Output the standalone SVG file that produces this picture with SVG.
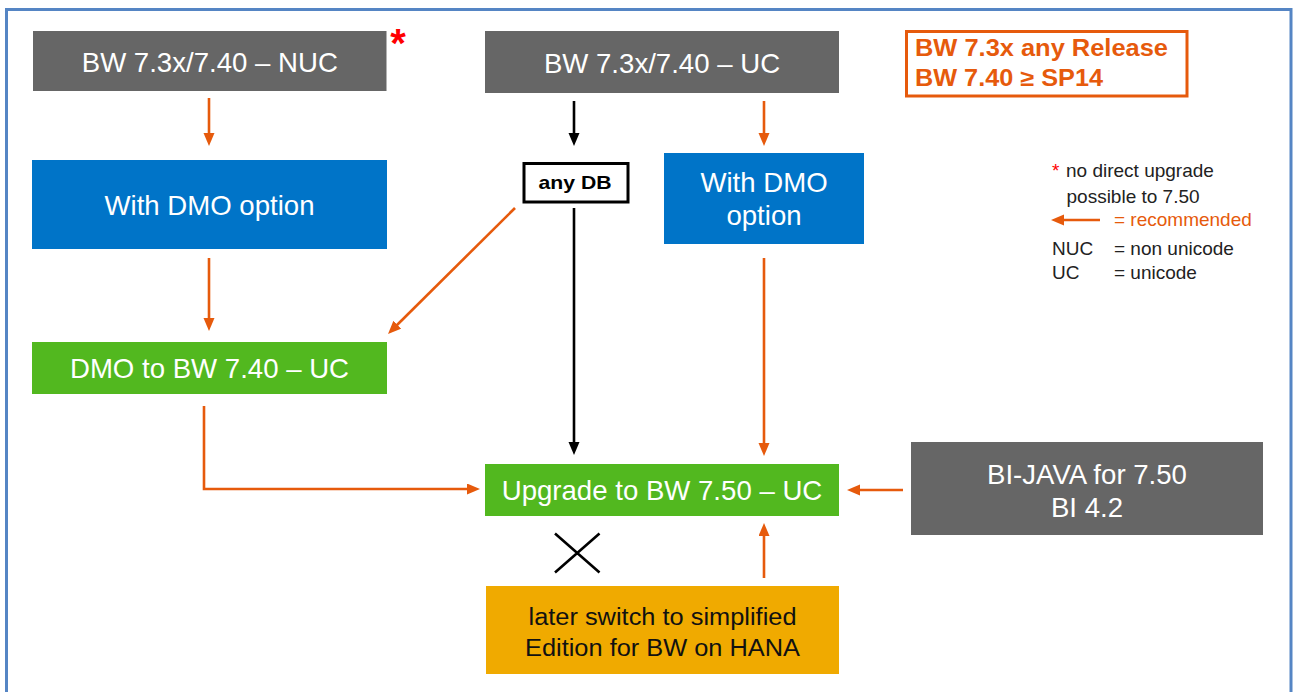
<svg xmlns="http://www.w3.org/2000/svg" width="1295" height="692" viewBox="0 0 1295 692">
<style>
.box{stroke:none}
.gray{fill:#666666}
.blue{fill:#0074c8}
.green{fill:#52b81f}
.yellow{fill:#f0aa00}
.wt{font-family:"Liberation Sans",Arial,sans-serif;font-size:27.6px;fill:#ffffff;text-anchor:middle}
.bt{font-family:"Liberation Sans",Arial,sans-serif;font-size:23px;fill:#111111;text-anchor:middle}
.ot{font-family:"Liberation Sans",Arial,sans-serif;font-size:23px;font-weight:bold;fill:#e65a0c}
.lg{font-family:"Liberation Sans",Arial,sans-serif;font-size:19px;fill:#222222}
.co{fill:none;stroke:#e65a0c;stroke-width:2.6}
.ck{fill:none;stroke:#000000;stroke-width:2.6}
</style>
<defs>
<marker id="ao" markerUnits="userSpaceOnUse" markerWidth="14" markerHeight="12" refX="6" refY="5.5" orient="auto"><path d="M0,0 L13,5.5 L0,11 z" fill="#e65a0c"/></marker>
<marker id="ak" markerUnits="userSpaceOnUse" markerWidth="14" markerHeight="12" refX="6" refY="5.5" orient="auto"><path d="M0,0 L13,5.5 L0,11 z" fill="#000000"/></marker>
</defs>
<rect width="1295" height="692" fill="#ffffff"/>
<path d="M6.5,700 V9.5 H1291 V700" fill="none" stroke="#5585c4" stroke-width="3"/>

<g id="connectors">
<line class="co" x1="209" y1="98" x2="209" y2="139" marker-end="url(#ao)"/>
<line class="co" x1="209" y1="258" x2="209" y2="324" marker-end="url(#ao)"/>
<line class="co" x1="515" y1="208" x2="393" y2="329" marker-end="url(#ao)"/>
<line class="co" x1="764" y1="101" x2="764" y2="139" marker-end="url(#ao)"/>
<line class="co" x1="764" y1="258" x2="764" y2="449" marker-end="url(#ao)"/>
<path class="co" d="M204,406 V489 H473" marker-end="url(#ao)"/>
<line class="co" x1="903" y1="490" x2="854" y2="490" marker-end="url(#ao)"/>
<line class="co" x1="764" y1="578" x2="764" y2="530" marker-end="url(#ao)"/>
<line class="ck" x1="574" y1="101" x2="574" y2="139" marker-end="url(#ak)"/>
<line class="ck" x1="574" y1="208" x2="574" y2="448" marker-end="url(#ak)"/>
<path d="M555,533.5 L599.5,572.5 M599.5,533.5 L555,572.5" fill="none" stroke="#000000" stroke-width="2.6"/>
</g>

<g id="node-nuc">
<rect class="box gray" x="33" y="31" width="353.5" height="60"/>
<text class="wt" x="209.8" y="72">BW 7.3x/7.40 – NUC</text>
<text x="398" y="57" font-family="'Liberation Sans',Arial,sans-serif" font-size="40" font-weight="bold" fill="#ff0000" text-anchor="middle">*</text>
</g>

<g id="node-uc">
<rect class="box gray" x="485" y="31" width="354" height="62"/>
<text class="wt" x="662" y="73">BW 7.3x/7.40 – UC</text>
</g>

<g id="node-release">
<rect x="906.5" y="31.5" width="280.5" height="64.5" fill="#ffffff" stroke="#e65a0c" stroke-width="3"/>
<text class="ot" x="915" y="56" textLength="253" lengthAdjust="spacingAndGlyphs">BW 7.3x any Release</text>
<text class="ot" x="915" y="86" textLength="188" lengthAdjust="spacingAndGlyphs">BW 7.40 ≥ SP14</text>
</g>

<g id="node-dmo-left">
<rect class="box blue" x="32" y="160" width="355" height="89"/>
<text class="wt" x="209.5" y="214.5">With DMO option</text>
</g>

<g id="node-anydb">
<rect x="524" y="163.5" width="104" height="38.5" fill="#ffffff" stroke="#000000" stroke-width="3"/>
<text x="575" y="188.5" font-family="'Liberation Sans',Arial,sans-serif" font-size="19" font-weight="bold" fill="#000000" text-anchor="middle" textLength="73" lengthAdjust="spacingAndGlyphs">any DB</text>
</g>

<g id="node-dmo-right">
<rect class="box blue" x="664" y="153" width="200" height="91"/>
<text class="wt" x="764" y="192">With DMO</text>
<text class="wt" x="764" y="225">option</text>
</g>

<g id="node-dmo740">
<rect class="box green" x="32" y="342" width="355" height="52"/>
<text class="wt" x="209.5" y="378">DMO to BW 7.40 – UC</text>
</g>

<g id="node-upgrade">
<rect class="box green" x="485" y="464" width="354" height="52"/>
<text class="wt" x="662" y="500">Upgrade to BW 7.50 – UC</text>
</g>

<g id="node-bijava">
<rect class="box gray" x="911" y="442" width="352" height="93"/>
<text class="wt" x="1087" y="483.5">BI-JAVA for 7.50</text>
<text class="wt" x="1087" y="516.5">BI 4.2</text>
</g>

<g id="node-later">
<rect class="box yellow" x="486" y="586" width="353" height="88"/>
<text class="bt" x="662.5" y="625" textLength="268" lengthAdjust="spacingAndGlyphs">later switch to simplified</text>
<text class="bt" x="662.5" y="655.5" textLength="275" lengthAdjust="spacingAndGlyphs">Edition for BW on HANA</text>
</g>

<g id="legend">
<text x="1052" y="177" font-family="'Liberation Sans',Arial,sans-serif" font-size="19" fill="#ff0000">*</text>
<text class="lg" x="1066" y="177">no direct upgrade</text>
<text class="lg" x="1066.5" y="202.5">possible to 7.50</text>
<line class="co" x1="1100" y1="220" x2="1058" y2="220" marker-end="url(#ao)"/>
<text class="lg" x="1114" y="225.5" style="fill:#e65a0c">= recommended</text>
<text class="lg" x="1052" y="254.5">NUC</text>
<text class="lg" x="1114" y="254.5">= non unicode</text>
<text class="lg" x="1052" y="278.5">UC</text>
<text class="lg" x="1114" y="278.5">= unicode</text>
</g>
</svg>
